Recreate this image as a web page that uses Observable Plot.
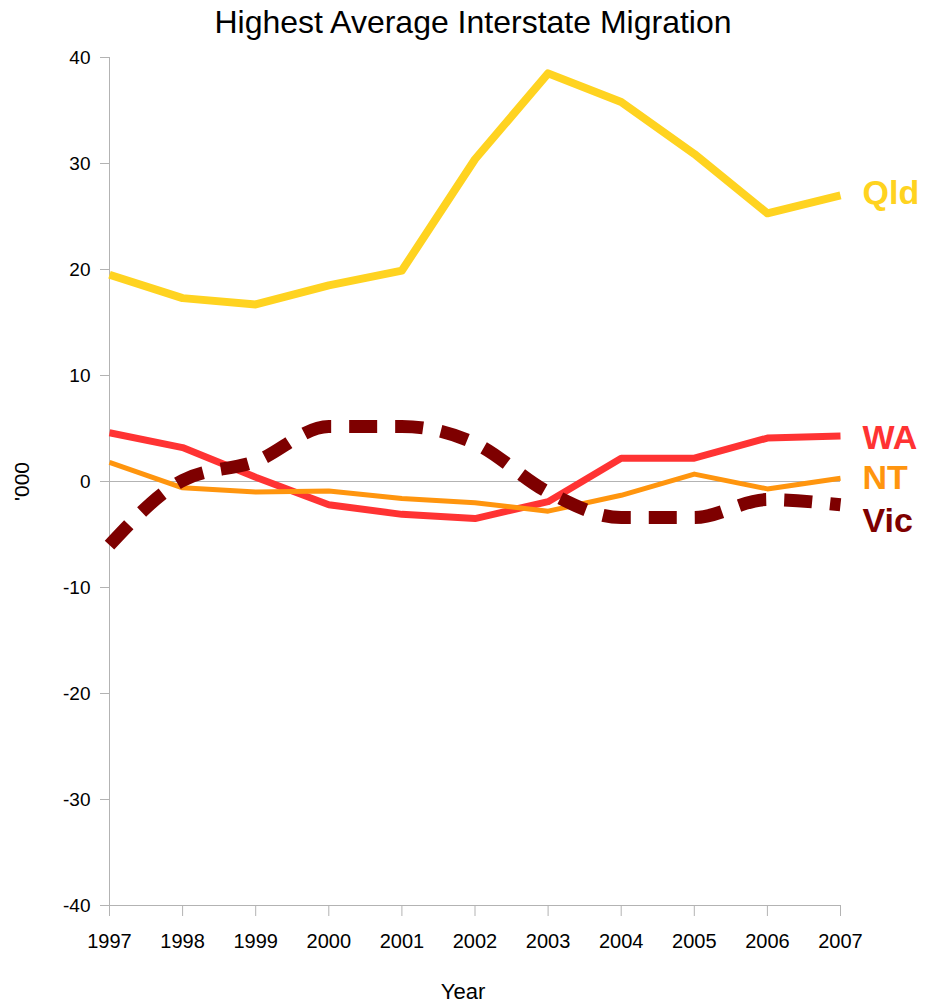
<!DOCTYPE html>
<html>
<head>
<meta charset="utf-8">
<script src="https://cdn.jsdelivr.net/npm/d3@7"></script>
<script src="https://cdn.jsdelivr.net/npm/@observablehq/plot@0.6"></script>
<style>
  html, body { margin: 0; padding: 0; background: #fff; }
  #wrap { width: 926px; height: 1004px; position: relative; font-family: "Liberation Sans", Arial, sans-serif; }
  #title { height: 45px; line-height: 45px; font-size: 32px; text-align: center; padding-left: 20px; box-sizing: border-box; width: 926px; color: #000; }
</style>
</head>
<body>
<div id="wrap">
  <div id="title">Highest Average Interstate Migration</div>
  <div id="chart"></div>
</div>
<script>
const years = [1997, 1998, 1999, 2000, 2001, 2002, 2003, 2004, 2005, 2006, 2007];
const qld = [19.5, 17.3, 16.7, 18.5, 19.9, 30.4, 38.5, 35.8, 30.9, 25.3, 27.0];
const wa  = [4.6, 3.2, 0.4, -2.2, -3.1, -3.5, -1.9, 2.2, 2.2, 4.1, 4.3];
const nt  = [1.8, -0.6, -1.0, -0.9, -1.6, -2.0, -2.8, -1.3, 0.7, -0.7, 0.3];
const vic = [-6.0, 0.1, 1.9, 5.2, 5.2, 3.6, -1.0, -3.4, -3.4, -1.7, -2.2];
const yTicks = [-40, -30, -20, -10, 0, 10, 20, 30, 40];
const seriesNames = ["Qld", "WA", "NT", "Vic"];

const rows = (name, vals) => years.map((y, i) => ({series: name, year: y, value: vals[i]}));
const qldRows = rows("Qld", qld);
const waRows = rows("WA", wa);
const ntRows = rows("NT", nt);
const vicRows = rows("Vic", vic);
const last = r => [r[r.length - 1]];

const gray = "#b3b3b3";
const labelFont = {fontSize: 34, fontWeight: "bold", textAnchor: "start", lineAnchor: "middle", dx: 22};

const chart = Plot.plot({
  width: 926,
  height: 959,
  marginTop: 12,
  marginLeft: 109,
  marginRight: 86,
  marginBottom: 99,
  style: {fontFamily: "Liberation Sans, Arial, sans-serif", fontSize: "19px", color: "#000", background: "#fff"},
  x: {domain: [1997, 2007]},
  y: {domain: [-40, 40]},
  marks: [
    Plot.ruleY([0], {stroke: gray, strokeWidth: 1}),
    Plot.ruleY([-40], {stroke: gray, strokeWidth: 1}),
    Plot.ruleX([1997], {stroke: gray, strokeWidth: 1}),
    Plot.axisY({ticks: yTicks, tickSize: 9, tickPadding: 10, stroke: gray, label: null, tickFormat: d => String(d)}),
    Plot.axisX({ticks: years, tickSize: 11, tickPadding: 17, stroke: gray, label: null, fontSize: 20, tickFormat: d => String(d)}),
    Plot.line(qldRows, {x: "year", y: "value", stroke: "#ffd320", strokeWidth: 8, strokeLinecap: "butt", strokeLinejoin: "round"}),
    Plot.line(waRows, {x: "year", y: "value", stroke: "#ff3333", strokeWidth: 7, strokeLinecap: "butt", strokeLinejoin: "round"}),
    Plot.line(ntRows, {x: "year", y: "value", stroke: "#ff950e", strokeWidth: 5, strokeLinecap: "butt", strokeLinejoin: "round"}),
    Plot.line(vicRows, {x: "year", y: "value", stroke: "#7e0000", strokeWidth: 13, strokeDasharray: "28,18", strokeLinecap: "butt", curve: "monotone-x"}),
    Plot.text(last(qldRows), {x: "year", y: "value", text: "series", fill: "#ffd320", ...labelFont, dy: -2}),
    Plot.text(last(waRows), {x: "year", y: "value", text: "series", fill: "#ff3333", ...labelFont, dy: 2}),
    Plot.text(last(ntRows), {x: "year", y: "value", text: "series", fill: "#ff950e", ...labelFont, dy: 0}),
    Plot.text(last(vicRows), {x: "year", y: "value", text: "series", fill: "#7e0000", ...labelFont, dy: 16}),
    Plot.text(["Year"], {frameAnchor: "bottom", text: d => d, fontSize: 22, textAnchor: "middle", lineAnchor: "middle", dx: -12, dy: 86}),
    Plot.text(["'000"], {frameAnchor: "left", text: d => d, fontSize: 21, textAnchor: "middle", lineAnchor: "middle", rotate: -90, dx: -87})
  ]
});
document.getElementById("chart").appendChild(chart);
</script>
</body>
</html>
